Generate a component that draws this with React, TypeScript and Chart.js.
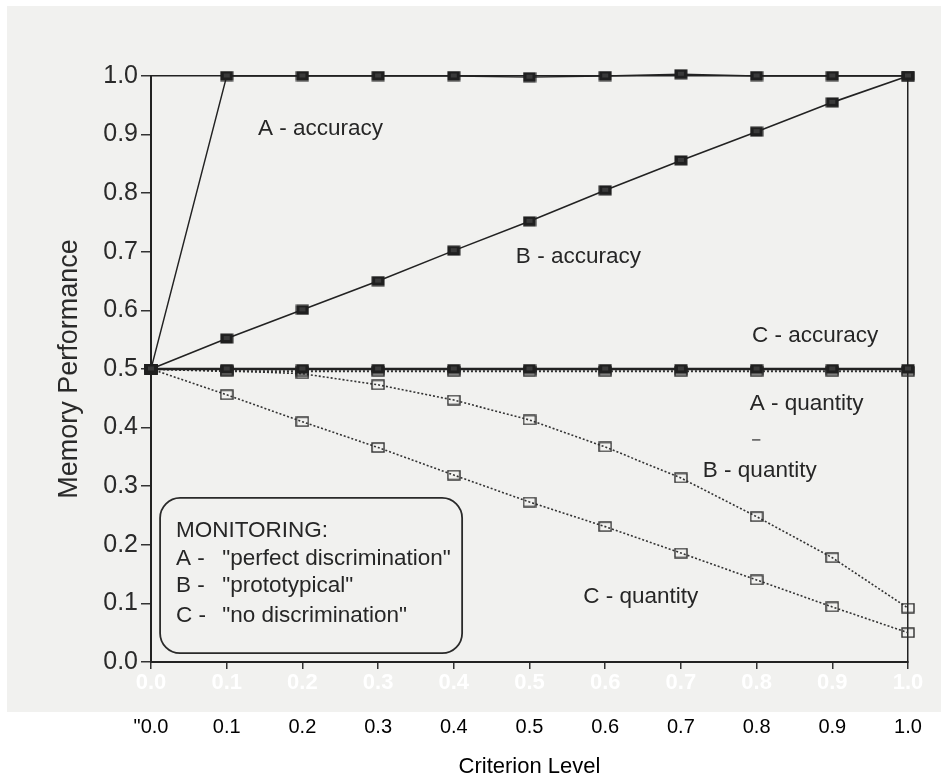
import React, { useEffect, useRef } from 'react';
import { Chart, registerables } from 'chart.js';

Chart.register(...registerables);

// ---- data ----
const criterion = [0, 0.1, 0.2, 0.3, 0.4, 0.5, 0.6, 0.7, 0.8, 0.9, 1.0];
const aAccuracy = [0.5, 1.0, 1.0, 1.0, 1.0, 0.998, 1.0, 1.003, 1.0, 1.0, 1.0];
const bAccuracy = [0.5, 0.552, 0.601, 0.65, 0.702, 0.752, 0.805, 0.856, 0.905, 0.955, 1.0];
const cAccuracy = [0.5, 0.5, 0.5, 0.5, 0.5, 0.5, 0.5, 0.5, 0.5, 0.5, 0.5];
const aQuantity = [0.5, 0.496, 0.496, 0.496, 0.496, 0.496, 0.496, 0.496, 0.496, 0.496, 0.496];
const bQuantity = [0.5, 0.497, 0.492, 0.473, 0.447, 0.413, 0.367, 0.314, 0.248, 0.178, 0.092];
const cQuantity = [0.5, 0.456, 0.41, 0.366, 0.319, 0.273, 0.231, 0.186, 0.14, 0.094, 0.05];

const yTickLabels = ['0.0', '0.1', '0.2', '0.3', '0.4', '0.5', '0.6', '0.7', '0.8', '0.9', '1.0'];
const scanTickLabels = ['0.0', '0.1', '0.2', '0.3', '0.4', '0.5', '0.6', '0.7', '0.8', '0.9', '1.0'];
const printedTickLabels = ['"0.0', '0.1', '0.2', '0.3', '0.4', '0.5', '0.6', '0.7', '0.8', '0.9', '1.0'];

const seriesLabels = ['A - accuracy', 'B - accuracy', 'C - accuracy', 'A - quantity', 'B - quantity', 'C - quantity'];
const legendTitle = 'MONITORING:';
const legendKeys = ['A -', 'B -', 'C -'];
const legendNames = ['"perfect discrimination"', '"prototypical"', '"no discrimination"'];
const xTitle = 'Criterion Level';
const yTitle = 'Memory Performance';

const FONT = '"Liberation Sans", Arial, Helvetica, sans-serif';

function pts(values: number[]) {
  return criterion.map((c, i) => ({ x: c, y: values[i] }));
}

function makeSquare(filled: boolean): HTMLCanvasElement {
  const c = document.createElement('canvas');
  c.width = 14;
  c.height = 11;
  const g = c.getContext('2d')!;
  if (filled) {
    g.fillStyle = '#1f1f1f';
    g.fillRect(0.5, 0.5, 13, 10);
    g.fillStyle = '#3a3a3a';
    g.fillRect(4, 3, 6, 4);
  } else {
    g.strokeStyle = '#2e2e2e';
    g.lineWidth = 1.4;
    g.strokeRect(1, 1, 12, 9);
  }
  return c;
}

// annotation anchors in data coordinates (x = left edge, y = baseline)
const labelAnchors: [number, number][] = [
  [0.1413, 0.9],
  [0.482, 0.681],
  [0.794, 0.5465],
  [0.791, 0.43],
  [0.729, 0.316],
  [0.571, 0.101],
];

const overlayPlugin = {
  id: 'overlay',
  beforeDraw(chart: any) {
    const { ctx } = chart;
    ctx.save();
    ctx.fillStyle = '#f1f1ef';
    ctx.fillRect(7, 6, 934, 706);
    ctx.restore();
  },
  afterDraw(chart: any) {
    const { ctx } = chart;
    const xs = chart.scales.x;
    const ys = chart.scales.y;
    const px = (v: number) => xs.getPixelForValue(v);
    const py = (v: number) => ys.getPixelForValue(v);
    ctx.save();
    ctx.fillStyle = '#262626';
    ctx.font = `22.5px ${FONT}`;
    ctx.textAlign = 'left';
    ctx.textBaseline = 'alphabetic';
    seriesLabels.forEach((t, i) => {
      ctx.fillText(t, px(labelAnchors[i][0]), py(labelAnchors[i][1]));
    });
    // stray dash
    ctx.strokeStyle = '#555';
    ctx.lineWidth = 1.5;
    ctx.beginPath();
    ctx.moveTo(px(0.794), py(0.379));
    ctx.lineTo(px(0.805), py(0.379));
    ctx.stroke();

    // legend box
    const bx = px(0.012);
    const by = py(0.28);
    const bw = px(0.411) - bx;
    const bh = py(0.015) - by;
    ctx.strokeStyle = '#2a2a2a';
    ctx.lineWidth = 1.8;
    ctx.beginPath();
    const r = 20;
    ctx.moveTo(bx + r, by);
    ctx.lineTo(bx + bw - r, by);
    ctx.arcTo(bx + bw, by, bx + bw, by + r, r);
    ctx.lineTo(bx + bw, by + bh - r);
    ctx.arcTo(bx + bw, by + bh, bx + bw - r, by + bh, r);
    ctx.lineTo(bx + r, by + bh);
    ctx.arcTo(bx, by + bh, bx, by + bh - r, r);
    ctx.lineTo(bx, by + r);
    ctx.arcTo(bx, by, bx + r, by, r);
    ctx.closePath();
    ctx.stroke();

    const lx = px(0.033);
    const qx = px(0.094);
    ctx.fillText(legendTitle, lx, py(0.2135));
    const rows = [0.166, 0.1195, 0.068];
    legendKeys.forEach((k, i) => {
      ctx.fillText(k, lx, py(rows[i]));
      ctx.fillText(legendNames[i], qx, py(rows[i]));
    });
    ctx.restore();
  },
};

export default function App() {
  const ref = useRef<HTMLCanvasElement | null>(null);

  useEffect(() => {
    if (!ref.current) return;
    Chart.defaults.font.family = FONT;
    const filled = makeSquare(true);
    const open = makeSquare(false);
    const solid = (label: string, data: number[], w: number) => ({
      label,
      data: pts(data),
      borderColor: '#222',
      borderWidth: w,
      pointStyle: filled,
      pointRadius: 7,
      fill: false,
      tension: 0,
      clip: false,
      xAxisID: 'x',
      yAxisID: 'y',
    });
    const dotted = (label: string, data: number[], w: number) => ({
      label,
      data: pts(data),
      borderColor: '#333',
      borderWidth: w,
      borderDash: [2, 2],
      pointStyle: open,
      pointRadius: 7,
      fill: false,
      tension: 0,
      clip: false,
      xAxisID: 'x',
      yAxisID: 'y',
    });

    const chart = new Chart(ref.current, {
      type: 'line',
      data: {
        datasets: [
          solid(seriesLabels[0], aAccuracy, 1.4),
          solid(seriesLabels[1], bAccuracy, 1.6),
          solid(seriesLabels[2], cAccuracy, 2.6),
          dotted(seriesLabels[3], aQuantity, 2),
          dotted(seriesLabels[4], bQuantity, 1.6),
          dotted(seriesLabels[5], cQuantity, 1.6),
        ] as any,
      },
      options: {
        responsive: false,
        animation: false,
        devicePixelRatio: 1,
        layout: { padding: { left: 0, right: 33, top: 76, bottom: 0 } },
        plugins: { legend: { display: false }, tooltip: { enabled: false } },
        scales: {
          x: {
            type: 'linear',
            position: 'bottom',
            weight: 0,
            min: 0,
            max: 1,
            afterFit: (s: any) => { s.height = 50; },
            ticks: {
              stepSize: 0.1,
              autoSkip: false,
              maxRotation: 0,
              padding: 1,
              color: '#ffffff',
              font: { family: FONT, size: 22, weight: 'bold' },
              callback: (_v: any, i: number) => scanTickLabels[i] ?? '',
            },
            grid: { drawOnChartArea: false, drawTicks: true, tickLength: 7, color: '#333', lineWidth: 1.5 },
            border: { display: true, color: '#222', width: 2 },
          },
          xb: {
            type: 'linear',
            position: 'bottom',
            weight: 1,
            min: 0,
            max: 1,
            afterFit: (s: any) => { s.height = 70; },
            ticks: {
              stepSize: 0.1,
              autoSkip: false,
              maxRotation: 0,
              padding: 3,
              color: '#000',
              font: { family: FONT, size: 20 },
              callback: (_v: any, i: number) => printedTickLabels[i] ?? '',
            },
            grid: { display: false, drawTicks: false },
            border: { display: false },
            title: { display: true, text: xTitle, color: '#000', font: { family: FONT, size: 22 }, padding: { top: 0, bottom: 2 } },
          },
          xt: {
            type: 'linear',
            position: 'top',
            min: 0,
            max: 1,
            afterFit: (s: any) => { s.height = 0; },
            ticks: { display: false },
            grid: { display: false, drawTicks: false },
            border: { display: true, color: '#222', width: 1.5 },
          },
          y: {
            type: 'linear',
            position: 'left',
            min: 0,
            max: 1,
            afterFit: (s: any) => { s.width = 151; },
            ticks: {
              stepSize: 0.1,
              autoSkip: false,
              padding: 3,
              color: '#2a2a2a',
              font: { family: FONT, size: 25 },
              callback: (_v: any, i: number) => yTickLabels[i] ?? '',
            },
            grid: { drawOnChartArea: false, drawTicks: true, tickLength: 10, color: '#333', lineWidth: 1.5 },
            border: { display: true, color: '#222', width: 2 },
            title: { display: true, text: yTitle, color: '#2a2a2a', font: { family: FONT, size: 27 }, padding: { top: 53, bottom: 0 } },
          },
          yr: {
            type: 'linear',
            position: 'right',
            min: 0,
            max: 1,
            afterFit: (s: any) => { s.width = 0; },
            ticks: { display: false },
            grid: { display: false, drawTicks: false },
            border: { display: true, color: '#222', width: 1.5 },
          },
        } as any,
      },
      plugins: [overlayPlugin],
    });
    return () => chart.destroy();
  }, []);

  return (
    <div style={{ position: 'fixed', left: 0, top: 0, width: 941, height: 782, background: '#fff' }}>
      <canvas ref={ref} width={941} height={782} style={{ display: 'block', width: 941, height: 782 }} />
    </div>
  );
}
